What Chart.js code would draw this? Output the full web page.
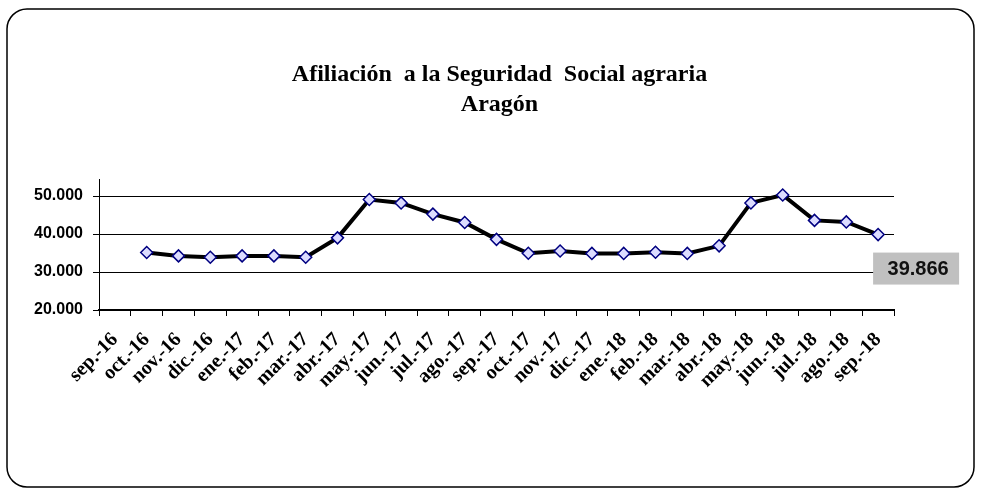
<!DOCTYPE html>
<html>
<head>
<meta charset="utf-8">
<script src="https://cdn.jsdelivr.net/npm/chart.js@4.4.1/dist/chart.umd.min.js"></script>
<style>
  html, body { margin: 0; padding: 0; background: #fff; }
  #wrap { position: relative; width: 981px; height: 493px; }
</style>
</head>
<body>
<div id="wrap"><canvas id="lineChart"></canvas></div>
<script>
// months shown on the x axis
const labels = [
  "sep.-16", "oct.-16", "nov.-16", "dic.-16", "ene.-17", "feb.-17", "mar.-17",
  "abr.-17", "may.-17", "jun.-17", "jul.-17", "ago.-17", "sep.-17", "oct.-17",
  "nov.-17", "dic.-17", "ene.-18", "feb.-18", "mar.-18", "abr.-18", "may.-18",
  "jun.-18", "jul.-18", "ago.-18", "sep.-18"
];

// afiliados (first month has no point in the original)
const afiliados = [
  null, 35150, 34250, 33900, 34250, 34250, 33900,
  39000, 49100, 48200, 45250, 43050, 38600, 34950,
  35550, 34900, 34900, 35200, 34900, 36900, 48200,
  50300, 43600, 43200, 39866
];

const yTicks = [20000, 30000, 40000, 50000];
const titleLines = ["Afiliación  a la Seguridad  Social agraria", "Aragón"];

// "50000" -> "50.000"
const fmt = (v) => String(Math.round(v)).replace(/\B(?=(\d{3})+(?!\d))/g, ".");

// rounded frame around the whole chart, title nudged a little right
const framePlugin = {
  id: "frame",
  afterLayout(chart) {
    if (chart.titleBlock) {
      chart.titleBlock.left += 3;
      chart.titleBlock.right += 3;
    }
  },
  beforeDraw(chart) {
    const ctx = chart.ctx;
    ctx.save();
    ctx.strokeStyle = "#000";
    ctx.lineWidth = 1.5;
    ctx.beginPath();
    ctx.roundRect(7, 9, chart.width - 14, chart.height - 15, 20);
    ctx.stroke();
    ctx.restore();
  }
};

// grey box with the last value
const lastLabelPlugin = {
  id: "lastLabel",
  afterDatasetsDraw(chart) {
    const meta = chart.getDatasetMeta(0);
    const i = afiliados.length - 1;
    const pt = meta.data[i];
    if (!pt) return;
    const ctx = chart.ctx;
    const cx = pt.x + 38, cy = pt.y + 34;
    ctx.save();
    ctx.fillStyle = "#c0c0c0";
    ctx.fillRect(cx - 43, cy - 16, 86, 32);
    ctx.fillStyle = "#111";
    ctx.font = "bold 20px 'Liberation Sans', Arial, sans-serif";
    ctx.textAlign = "center";
    ctx.textBaseline = "middle";
    ctx.fillText(fmt(afiliados[i]), cx + 2, cy + 1);
    ctx.restore();
  }
};

new Chart(document.getElementById("lineChart"), {
  type: "line",
  data: {
    labels,
    datasets: [{
      label: "Afiliación",
      data: afiliados,
      borderColor: "#000",
      borderWidth: 4,
      tension: 0,
      pointStyle: "rectRot",
      pointRadius: 6,
      pointBackgroundColor: "#dcdcff",
      pointBorderColor: "#000080",
      pointBorderWidth: 1.5
    }]
  },
  options: {
    responsive: true,
    maintainAspectRatio: false,
    animation: false,
    layout: { padding: { left: 0, right: 87, top: 0, bottom: 0 } },
    plugins: {
      legend: { display: false },
      tooltip: { enabled: false },
      title: {
        display: true,
        fullSize: false,
        text: titleLines,
        color: "#000",
        font: { family: "'Liberation Serif', 'Times New Roman', serif", size: 24, weight: "bold", lineHeight: 1.25 },
        padding: { top: 60, bottom: 59 }
      }
    },
    scales: {
      x: {
        offset: true,
        border: { color: "#000", width: 2 },
        grid: { offset: true, drawOnChartArea: false, color: "#000", tickLength: 6 },
        ticks: {
          autoSkip: false,
          maxRotation: 45,
          minRotation: 45,
          padding: 12,
          color: "#000",
          font: { family: "'Liberation Serif', 'Times New Roman', serif", size: 20, weight: "bold" }
        },
        afterFit: (s) => { s.height = 183; }
      },
      y: {
        min: 20000,
        max: 54500,
        border: { color: "#000", width: 1 },
        grid: { color: "#000", lineWidth: 1, tickLength: 6 },
        ticks: {
          stepSize: 10000,
          padding: 10,
          color: "#000",
          font: { family: "'Liberation Sans', Arial, sans-serif", size: 16, weight: "bold" },
          callback: (v) => fmt(v)
        },
        afterBuildTicks: (s) => { s.ticks = yTicks.map((v) => ({ value: v })); },
        afterFit: (s) => { s.width = 99; }
      }
    }
  },
  plugins: [framePlugin, lastLabelPlugin]
});
</script>
</body>
</html>
